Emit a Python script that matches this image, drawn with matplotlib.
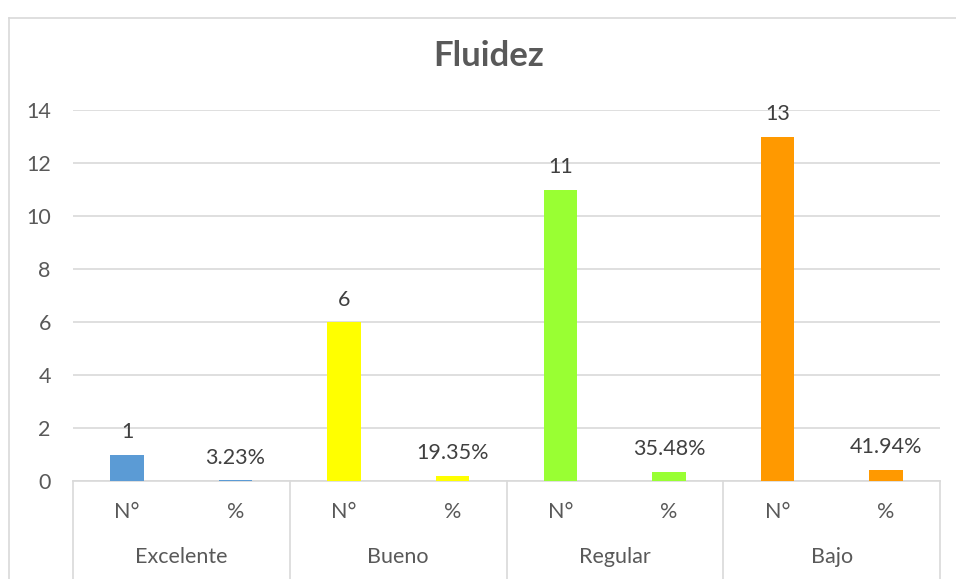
import matplotlib
matplotlib.use("Agg")
import matplotlib.pyplot as plt
import matplotlib.transforms as mtransforms
from matplotlib.lines import Line2D

categories = ["Excelente", "Bueno", "Regular", "Bajo"]
sub_labels = ["N°", "%"]
counts = [1, 6, 11, 13]
percents = [0.0323, 0.1935, 0.3548, 0.4194]
percent_labels = ["3.23%", "19.35%", "35.48%", "41.94%"]
colors = ["#5B9BD5", "#FFFF00", "#99FF33", "#FF9900"]
yticks = [0, 2, 4, 6, 8, 10, 12, 14]

plt.rcParams['font.family'] = ['Lato', 'DejaVu Sans']
text_color = "#595959"
grid_color = "#D9D9D9"

fig = plt.figure(figsize=(9.56, 5.79), dpi=100)
fig.patch.set_facecolor("white")
W, H = 956, 579
ax = fig.add_axes([73 / W, 1 - 481 / H, (940 - 73) / W, (481 - 110) / H])

# outer chart border (cropped at right and bottom)
fig.add_artist(Line2D([9 / W, 9 / W], [0, 1 - 18 / H], color=grid_color, lw=1.2, transform=fig.transFigure))
fig.add_artist(Line2D([9 / W, 1], [1 - 18 / H, 1 - 18 / H], color=grid_color, lw=1.2, transform=fig.transFigure))

width = 0.31
fs = 15.5
xs, heights, cols, labels, ticklabels = [], [], [], [], []
for i, cat in enumerate(categories):
    xs += [2 * i, 2 * i + 1]
    heights += [counts[i], percents[i]]
    cols += [colors[i], colors[i]]
    labels += [str(counts[i]), percent_labels[i]]
    ticklabels += sub_labels

bars = ax.bar(xs, heights, width=width, color=cols, zorder=3)
for b, lab in zip(bars, labels):
    ax.annotate(lab, (b.get_x() + b.get_width() / 2, b.get_height()),
                xytext=(0, 9), textcoords="offset points",
                ha="center", va="bottom", fontsize=fs, color="#404040")

ax.set_xlim(-0.5, 2 * len(categories) - 0.5)
ax.set_ylim(0, 14)
ax.set_yticks(yticks)
ax.set_yticklabels([str(v) for v in yticks], fontsize=fs, color=text_color)
ax.set_xticks(xs)
ax.set_xticklabels(ticklabels, fontsize=fs, color=text_color)
ax.tick_params(axis="y", length=0, pad=16)
ax.tick_params(axis="x", length=0, pad=15)
ax.grid(axis="y", color=grid_color, lw=1.2, zorder=0)
for s in ["top", "right", "left"]:
    ax.spines[s].set_visible(False)
ax.spines["bottom"].set_color(grid_color)
ax.spines["bottom"].set_linewidth(1.2)

trans = mtransforms.blended_transform_factory(ax.transData, ax.transAxes)
for k in range(len(categories) + 1):
    xk = 2 * k - 0.5
    ax.add_line(Line2D([xk, xk], [0, -0.27], color=grid_color, lw=1.2, transform=trans, clip_on=False))
for i, cat in enumerate(categories):
    ax.text(2 * i + 0.5, -0.205, cat, transform=trans, ha="center", va="center",
            fontsize=fs, color=text_color)

fig.text(489 / W, 1 - 56 / H, "Fluidez", ha="center", va="center",
         fontsize=25, fontweight="bold", color=text_color)

fig.savefig("out.png", dpi=100, facecolor="white")
